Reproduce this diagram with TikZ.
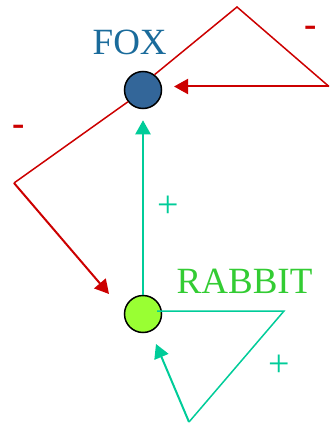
\documentclass[tikz,border=0pt]{standalone}
\usepackage{fontspec}
\setmainfont{Liberation Serif}
\usetikzlibrary{arrows.meta}
\definecolor{foxfill}{HTML}{336699}
\definecolor{foxtext}{HTML}{1A6B9B}
\definecolor{rabfill}{HTML}{99FF33}
\definecolor{rabtext}{HTML}{33CC33}
\definecolor{linkgreen}{HTML}{00CC99}
\definecolor{redline}{HTML}{CC0000}
\begin{document}
\begin{tikzpicture}[x=1pt,y=-1pt,
  species/.style={circle,draw=black,line width=1.5pt,minimum size=37pt,inner sep=0pt},
  lbl/.style={font=\fontsize{37}{40}\selectfont,inner sep=0pt},
  signtext/.style={font=\fontsize{38}{40}\selectfont,inner sep=0pt},
  negsign/.style={font=\fontsize{37}{40}\selectfont\bfseries,inner sep=0pt,text=redline,anchor=base},
  neglink/.style={draw=redline,line width=1.5pt,line join=miter},
  poslink/.style={draw=linkgreen,line width=1.5pt,line join=miter},
  tipa/.style={-{Triangle[length=14pt,width=15pt]}}
]
\useasboundingbox (0,0) rectangle (329,425);
% species
\node[species,fill=foxfill] (fox) at (143,90) {};
\node[species,fill=rabfill] (rabbit) at (143,314) {};
% labels
\node[lbl,text=foxtext,anchor=base west] (foxlabel) at (92.5,55) {FOX};
\node[lbl,text=rabtext,anchor=base west] (rablabel) at (176.5,293) {RABBIT};
% fox self-loop
\coordinate (fpeak) at (237,7);
\coordinate (fright) at (329,86.5);
\coordinate (ftip) at (174,86.5);
\draw[neglink] (fox.53) -- (fpeak) -- (fright);
\draw[neglink,line width=2pt,tipa] (fright) -- (ftip);
% fox -> rabbit
\coordinate (lcorner) at (14,183);
\coordinate (ltip) at (109,294);
\draw[neglink] (fox.218) -- (lcorner);
\draw[neglink,line width=2pt,tipa] (lcorner) -- (ltip);
% rabbit -> fox
\draw[poslink,line width=2.2pt,tipa] (rabbit.north) -- ([yshift=-11pt]fox.south);
% rabbit self-loop
\coordinate (rstart) at (157,311);
\coordinate (rcorner) at (284,311);
\coordinate (rbottom) at (189,422);
\coordinate (rtip) at (156,344);
\draw[poslink] (rstart) -- (rcorner) -- (rbottom);
\draw[poslink,line width=2pt,tipa] (rbottom) -- (rtip);
% signs
\node[signtext,text=linkgreen] (plus1) at (168,207) {+};
\node[signtext,text=linkgreen] (plus2) at (279,366) {+};
\node[negsign] (minus1) at (311,36.5) {-};
\node[negsign] (minus2) at (19,135) {-};
\end{tikzpicture}
\end{document}
